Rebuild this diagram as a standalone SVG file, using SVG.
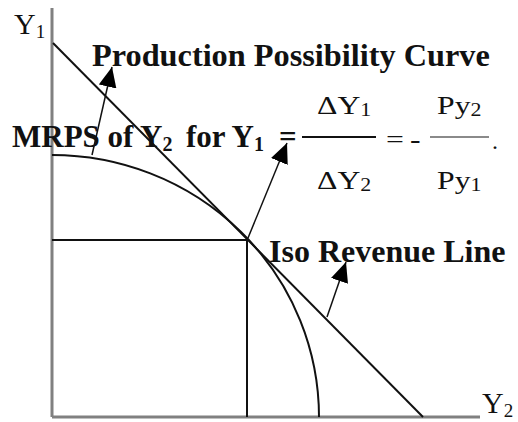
<svg xmlns="http://www.w3.org/2000/svg" width="518" height="422" viewBox="0 0 518 422">
<style>
.t{font-family:"Liberation Serif","Times New Roman",serif;fill:#111}
.b{font-weight:bold}
.ax{stroke:#808080;stroke-width:3;fill:none}
.ln{stroke:#111;stroke-width:2;fill:none}
.ar{stroke:#111;stroke-width:1.5;fill:none;marker-end:url(#ah)}
</style>
<defs>
<marker id="ah" viewBox="0 0 20 18" refX="20" refY="9" markerWidth="20" markerHeight="18" markerUnits="userSpaceOnUse" orient="auto">
<path d="M0,0 L20,9 L0,18 z" fill="#000"/>
</marker>
</defs>
<g id="axes">
<line class="ax" x1="52" y1="8" x2="52" y2="417"/>
<line class="ax" x1="52" y1="417" x2="480" y2="417"/>
</g>
<g id="iso-revenue-line"><line class="ln" x1="53" y1="43" x2="423" y2="417"/></g>
<g id="ppc"><path class="ln" d="M52,155 A267,262 0 0 1 319,417"/></g>
<g id="guides">
<line class="ln" x1="52" y1="240" x2="248" y2="240"/>
<line class="ln" x1="247" y1="240" x2="247" y2="417"/>
</g>
<g id="connectors">
<line class="ar" x1="92" y1="155" x2="112" y2="67"/>
<line class="ar" x1="248" y1="238" x2="287" y2="143"/>
<line class="ar" x1="327" y1="317" x2="346" y2="262"/>
</g>
<g id="label-y1"><text class="t" x="14" y="34" font-size="30">Y<tspan font-size="19" dy="4">1</tspan></text></g>
<g id="label-y2"><text class="t" x="482" y="413" font-size="30">Y<tspan font-size="19" dy="4">2</tspan></text></g>
<g id="label-ppc"><text class="t b" x="92" y="66" font-size="32.3">Production Possibility Curve</text></g>
<g id="label-iso"><text class="t b" x="269" y="262" font-size="32">Iso Revenue Line</text></g>
<g id="label-mrps">
<text class="t b" x="12" y="147" font-size="31">MRPS of Y<tspan font-size="20" dy="4">2</tspan><tspan x="186" dy="-4">for Y</tspan><tspan font-size="20" dy="4">1</tspan><tspan x="279" dy="-4">=</tspan></text>
<line class="ln" x1="302" y1="137" x2="376" y2="137"/>
<text class="t" font-size="26" transform="translate(317,114) scale(1.22,1)">ΔY<tspan font-size="18" dy="2">1</tspan></text>
<text class="t" font-size="26" transform="translate(317,189) scale(1.22,1)">ΔY<tspan font-size="18" dy="2">2</tspan></text>
<text class="t" font-size="26" transform="translate(386,148) scale(1.22,1)">=</text>
<text class="t" font-size="26" transform="translate(410,148) scale(1.22,1)">-</text>
<line x1="430" y1="137" x2="489" y2="137" stroke="#8a8a8a" stroke-width="2"/>
<text class="t" font-size="26" transform="translate(437,114) scale(1.22,1)">Py<tspan font-size="18" dy="2">2</tspan></text>
<text class="t" font-size="26" transform="translate(437,189) scale(1.22,1)">Py<tspan font-size="18" dy="2">1</tspan></text>
<text class="t" font-size="24" x="492" y="149">.</text>
</g>
</svg>
